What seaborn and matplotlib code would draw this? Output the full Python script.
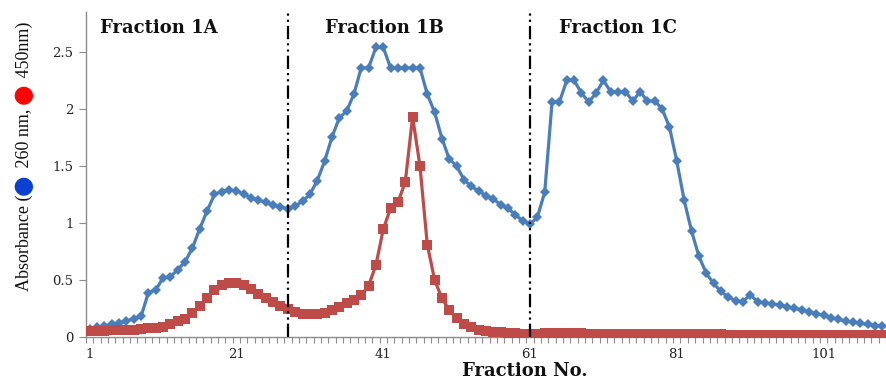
import numpy as np
import pandas as pd
import seaborn as sns
import matplotlib
matplotlib.use("Agg")
import matplotlib.pyplot as plt

# Fraction numbers and absorbance readings
fractions = list(range(1, 110))

abs_260 = [
    0.07, 0.085, 0.10, 0.11, 0.12, 0.14, 0.16, 0.18, 0.39, 0.41,
    0.52, 0.53, 0.59, 0.66, 0.78, 0.95, 1.105, 1.25, 1.275, 1.29,
    1.28, 1.255, 1.22, 1.20, 1.18, 1.16, 1.14, 1.125, 1.15, 1.19,
    1.25, 1.37, 1.54, 1.75, 1.92, 1.98, 2.13, 2.36, 2.36, 2.54,
    2.54, 2.36, 2.36, 2.36, 2.36, 2.36, 2.13, 1.97, 1.74, 1.56,
    1.50, 1.38, 1.32, 1.28, 1.24, 1.21, 1.16, 1.13, 1.07, 1.02,
    0.99, 1.05, 1.27, 2.06, 2.06, 2.25, 2.25, 2.14, 2.06, 2.14,
    2.25, 2.15, 2.15, 2.15, 2.07, 2.15, 2.07, 2.07, 2.00, 1.84,
    1.54, 1.20, 0.93, 0.71, 0.56, 0.47, 0.40, 0.35, 0.32, 0.31,
    0.37, 0.31, 0.30, 0.29, 0.28, 0.265, 0.25, 0.24, 0.22, 0.205,
    0.19, 0.17, 0.155, 0.14, 0.13, 0.12, 0.11, 0.10, 0.095,
]

abs_450 = [
    0.05, 0.05, 0.055, 0.06, 0.06, 0.065, 0.065, 0.07, 0.075, 0.08,
    0.09, 0.11, 0.14, 0.155, 0.21, 0.27, 0.34, 0.41, 0.455, 0.475,
    0.47, 0.455, 0.42, 0.38, 0.345, 0.31, 0.275, 0.245, 0.22, 0.205,
    0.20, 0.20, 0.21, 0.235, 0.265, 0.295, 0.325, 0.37, 0.45, 0.63,
    0.945, 1.13, 1.18, 1.36, 1.93, 1.50, 0.81, 0.50, 0.34, 0.235,
    0.165, 0.11, 0.085, 0.065, 0.05, 0.045, 0.04, 0.035, 0.035, 0.03,
    0.03, 0.03, 0.035, 0.035, 0.035, 0.035, 0.035, 0.035, 0.03, 0.03,
    0.03, 0.03, 0.03, 0.03, 0.028, 0.027, 0.025, 0.025, 0.025, 0.025,
    0.024, 0.024, 0.023, 0.023, 0.022, 0.022, 0.022, 0.021, 0.021, 0.02,
    0.02, 0.02, 0.02, 0.02, 0.02, 0.02, 0.02, 0.02, 0.02, 0.02,
    0.019, 0.019, 0.018, 0.018, 0.017, 0.017, 0.016, 0.016, 0.015,
]

x_tick_values = [1, 21, 41, 61, 81, 101]
y_tick_values = [0, 0.5, 1, 1.5, 2, 2.5]
y_tick_labels = ["0", "0.5", "1", "1.5", "2", "2.5"]
section_bounds = [28, 61]
section_titles = ["Fraction 1A", "Fraction 1B", "Fraction 1C"]

df = pd.DataFrame({"fraction": fractions, "a260": abs_260, "a450": abs_450})

sns.set_style("white")
plt.rcParams["font.family"] = ["DejaVu Serif", "DejaVu Sans"]

W, H = 886, 381
fig = plt.figure(figsize=(W / 100, H / 100), dpi=100)
ax = fig.add_axes([86 / W, 1 - 337 / H, 800 / W, 325 / H])

blue = "#4A7EBB"
red = "#BE4B48"

sns.lineplot(data=df, x="fraction", y="a260", ax=ax, color=blue,
             linewidth=2.3, marker="D", markersize=5.4, markeredgewidth=0,
             markerfacecolor=blue, zorder=3)
sns.lineplot(data=df, x="fraction", y="a450", ax=ax, color=red,
             linewidth=2.3, marker="s", markersize=7.2, markeredgewidth=0,
             markerfacecolor=red, zorder=4)

# Section separators
for b in section_bounds:
    ax.axvline(b, color="black", linewidth=1.6,
               linestyle=(0, (6, 1.8, 1, 1.8, 1, 1.8)), zorder=5)

ax.set_xlim(0.5, 109.4)
ax.set_ylim(0, 2.85)

spine_c = "#8C8C8C"
for side in ["top", "right"]:
    ax.spines[side].set_visible(False)
for side in ["left", "bottom"]:
    ax.spines[side].set_color(spine_c)
    ax.spines[side].set_linewidth(1.0)

ax.set_xticks(x_tick_values)
ax.set_xticklabels([str(v) for v in x_tick_values])
ax.set_xticks(np.arange(0.5, 110, 1), minor=True)
ax.tick_params(axis="x", which="major", length=0, pad=8,
               labelsize=9.5, labelcolor="#222222")
ax.tick_params(axis="x", which="minor", length=4, width=0.8,
               color=spine_c, direction="out", bottom=True)

ax.set_yticks(y_tick_values)
ax.set_yticklabels(y_tick_labels)
ax.tick_params(axis="y", which="major", length=5, width=0.8, color=spine_c,
               direction="out", left=True, labelsize=9.5,
               labelcolor="#222222", pad=4)

ax.set_xlabel("")
ax.set_ylabel("")
fig.text(525 / W, 1 - 371 / H, "Fraction No.", ha="center", va="center",
         fontsize=13, fontweight="bold", color="#111111")

# Section titles
title_x = [2.4, 33.0, 65.0]
for tx, label in zip(title_x, section_titles):
    ax.text(tx, 2.71, label, ha="left", va="center", fontsize=13,
            fontweight="bold", color="#111111", zorder=6)

# Vertical axis label with coloured markers
fig.canvas.draw()
renderer = fig.canvas.get_renderer()
label_parts = [
    ("Absorbance (", "#111111", "Liberation Serif", 13),
    ("\u25CF", "#0A3FD0", "DejaVu Sans", 17),
    (" 260 nm, ", "#111111", "Liberation Serif", 13),
    ("\u25CF", "#FF0000", "DejaVu Sans", 17),
    (" 450nm)", "#111111", "Liberation Serif", 13),
]
y_px = 291.0
for text, color, fam, size in label_parts:
    xb = 28.5 if fam == "Liberation Serif" else 29.5
    t = fig.text(xb / W, 1 - y_px / H, text, rotation=90,
                 rotation_mode="anchor", ha="left", va="baseline",
                 color=color, fontsize=size, family=[fam, "DejaVu Sans"])
    bb = t.get_window_extent(renderer)
    y_px -= bb.height + (1.5 if fam == "DejaVu Sans" else 0.0)

fig.savefig("out.png", dpi=100)
